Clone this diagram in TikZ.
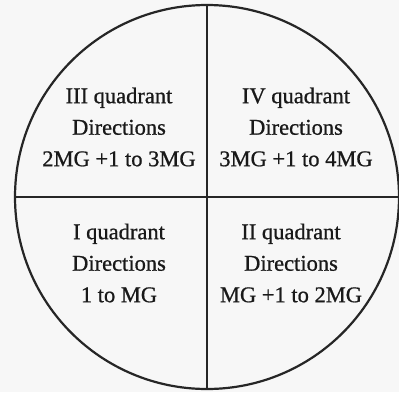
\documentclass[tikz,border=0pt]{standalone}
\usepackage{fontspec}
\setmainfont{Liberation Serif}
\newfontfamily\qfont{Liberation Serif}[FakeBold=0.8]
\begin{document}
\begin{tikzpicture}[x=1pt,y=-1pt,
  quad/.style={align=center,font=\qfont\fontsize{22.5}{31.5}\selectfont,inner sep=0pt,text=black!90},
  rim/.style={line width=2.2pt,black!85}]
\fill[black!3] (0,0) rectangle (399,392);
\useasboundingbox (0,0) rectangle (399,392);
\coordinate (c) at (207,197);
\begin{scope}
\clip (0,0) rectangle (399,392);
\draw[rim] (c) circle[radius=192];
\end{scope}
\coordinate (top) at (207,5);
\coordinate (bot) at (207,389);
\coordinate (lft) at (15,197);
\coordinate (rgt) at (399,197);
\draw[rim] (top) -- (bot);
\draw[rim] (lft) -- (rgt);
\node[quad] (q3) at (119,127) {III quadrant\\Directions\\2MG +1 to 3MG};
\node[quad] (q4) at (296,127) {IV quadrant\\Directions\\3MG +1 to 4MG};
\node[quad] (q1) at (119,263) {I quadrant\\Directions\\1 to MG};
\node[quad] (q2) at (291,263) {II quadrant\\Directions\\MG +1 to 2MG};
\end{tikzpicture}
\end{document}
